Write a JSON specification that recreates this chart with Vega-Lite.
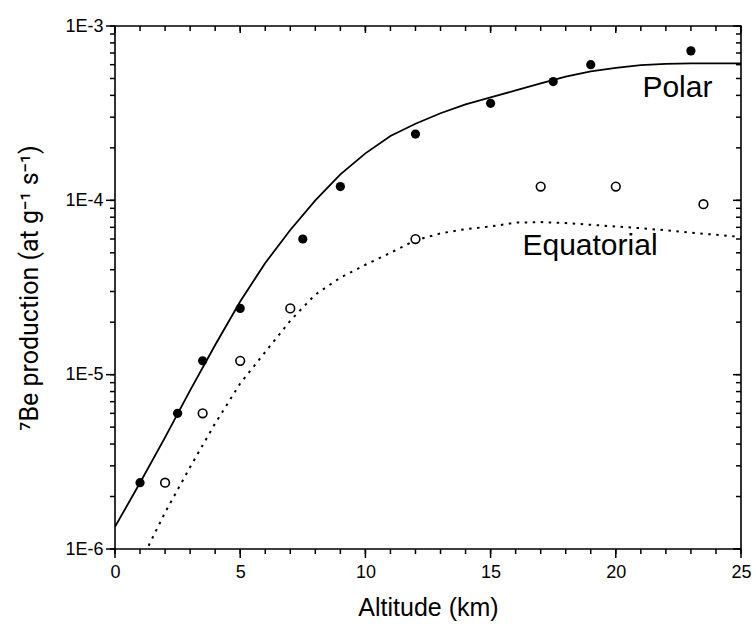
{
  "$schema": "https://vega.github.io/schema/vega-lite/v6.json",
  "width": 626,
  "height": 523,
  "autosize": {"type": "none"},
  "padding": {"left": 115, "top": 26, "right": 12, "bottom": 79},
  "background": "white",
  "config": {
    "view": {"stroke": "black", "strokeWidth": 1.6},
    "font": "Liberation Sans",
    "axis": {
      "grid": false,
      "domain": false,
      "ticks": false,
      "tickSize": 0,
      "labelColor": "black",
      "titleColor": "black",
      "labelFont": "Liberation Sans",
      "titleFont": "Liberation Sans",
      "labelFontSize": 18,
      "titleFontSize": 25,
      "titleFontWeight": "normal"
    }
  },
  "datasets": {
    "polarCurve": [
      {"altitude": 0, "production": 1.34e-6},
      {"altitude": 1, "production": 2.4e-6},
      {"altitude": 2, "production": 4.37e-6},
      {"altitude": 3, "production": 8.13e-6},
      {"altitude": 4, "production": 1.48e-5},
      {"altitude": 5, "production": 2.63e-5},
      {"altitude": 6, "production": 4.37e-5},
      {"altitude": 7, "production": 6.76e-5},
      {"altitude": 8, "production": 1.0e-4},
      {"altitude": 9, "production": 1.41e-4},
      {"altitude": 10, "production": 1.86e-4},
      {"altitude": 11, "production": 2.34e-4},
      {"altitude": 12, "production": 2.75e-4},
      {"altitude": 13, "production": 3.16e-4},
      {"altitude": 14, "production": 3.55e-4},
      {"altitude": 15, "production": 3.89e-4},
      {"altitude": 16, "production": 4.27e-4},
      {"altitude": 17, "production": 4.68e-4},
      {"altitude": 18, "production": 5.13e-4},
      {"altitude": 19, "production": 5.5e-4},
      {"altitude": 20, "production": 5.75e-4},
      {"altitude": 21, "production": 5.96e-4},
      {"altitude": 22, "production": 6.07e-4},
      {"altitude": 23, "production": 6.1e-4},
      {"altitude": 24, "production": 6.1e-4},
      {"altitude": 25, "production": 6.1e-4}
    ],
    "eqCurve": [
      {"altitude": 1.2, "production": 9.5e-7},
      {"altitude": 2, "production": 1.62e-6},
      {"altitude": 3, "production": 2.95e-6},
      {"altitude": 4, "production": 5.25e-6},
      {"altitude": 5, "production": 8.9e-6},
      {"altitude": 6, "production": 1.35e-5},
      {"altitude": 7, "production": 2.04e-5},
      {"altitude": 8, "production": 2.88e-5},
      {"altitude": 9, "production": 3.6e-5},
      {"altitude": 10, "production": 4.27e-5},
      {"altitude": 11, "production": 5.0e-5},
      {"altitude": 12, "production": 5.9e-5},
      {"altitude": 13, "production": 6.46e-5},
      {"altitude": 14, "production": 6.84e-5},
      {"altitude": 15, "production": 7.08e-5},
      {"altitude": 16, "production": 7.45e-5},
      {"altitude": 17, "production": 7.5e-5},
      {"altitude": 18, "production": 7.41e-5},
      {"altitude": 19, "production": 7.24e-5},
      {"altitude": 20, "production": 7.08e-5},
      {"altitude": 21, "production": 6.92e-5},
      {"altitude": 22, "production": 6.73e-5},
      {"altitude": 23, "production": 6.53e-5},
      {"altitude": 24, "production": 6.34e-5},
      {"altitude": 25, "production": 6.17e-5}
    ],
    "polarPts": [
      {"altitude": 1, "production": 2.4e-6},
      {"altitude": 2.5, "production": 6e-6},
      {"altitude": 3.5, "production": 1.2e-5},
      {"altitude": 5, "production": 2.4e-5},
      {"altitude": 7.5, "production": 6e-5},
      {"altitude": 9, "production": 1.2e-4},
      {"altitude": 12, "production": 2.4e-4},
      {"altitude": 15, "production": 3.6e-4},
      {"altitude": 17.5, "production": 4.8e-4},
      {"altitude": 19, "production": 6e-4},
      {"altitude": 23, "production": 7.2e-4}
    ],
    "eqPts": [
      {"altitude": 2, "production": 2.4e-6},
      {"altitude": 3.5, "production": 6e-6},
      {"altitude": 5, "production": 1.2e-5},
      {"altitude": 7, "production": 2.4e-5},
      {"altitude": 12, "production": 6e-5},
      {"altitude": 17, "production": 1.2e-4},
      {"altitude": 20, "production": 1.2e-4},
      {"altitude": 23.5, "production": 9.5e-5}
    ],
    "labels": [
      {"altitude": 22.46, "production": 3.92e-4, "text": "Polar"},
      {"altitude": 18.97, "production": 4.85e-5, "text": "Equatorial"}
    ],
    "xTicks": [
      {"altitude": 0}, {"altitude": 1}, {"altitude": 2}, {"altitude": 3}, {"altitude": 4},
      {"altitude": 5}, {"altitude": 6}, {"altitude": 7}, {"altitude": 8}, {"altitude": 9},
      {"altitude": 10}, {"altitude": 11}, {"altitude": 12}, {"altitude": 13}, {"altitude": 14},
      {"altitude": 15}, {"altitude": 16}, {"altitude": 17}, {"altitude": 18}, {"altitude": 19},
      {"altitude": 20}, {"altitude": 21}, {"altitude": 22}, {"altitude": 23}, {"altitude": 24},
      {"altitude": 25}
    ],
    "yTicks": [
      {"production": 1e-6}, {"production": 2e-6}, {"production": 3e-6}, {"production": 4e-6},
      {"production": 5e-6}, {"production": 6e-6}, {"production": 7e-6}, {"production": 8e-6},
      {"production": 9e-6}, {"production": 1e-5}, {"production": 2e-5}, {"production": 3e-5},
      {"production": 4e-5}, {"production": 5e-5}, {"production": 6e-5}, {"production": 7e-5},
      {"production": 8e-5}, {"production": 9e-5}, {"production": 1e-4}, {"production": 2e-4},
      {"production": 3e-4}, {"production": 4e-4}, {"production": 5e-4}, {"production": 6e-4},
      {"production": 7e-4}, {"production": 8e-4}, {"production": 9e-4}, {"production": 1e-3}
    ]
  },
  "layer": [
    {
      "data": {"name": "polarCurve"},
      "mark": {"type": "line", "color": "black", "strokeWidth": 1.8, "clip": true},
      "encoding": {
        "x": {
          "field": "altitude", "type": "quantitative",
          "scale": {"domain": [0, 25], "nice": false, "zero": false},
          "axis": {
            "orient": "bottom",
            "title": "Altitude (km)",
            "values": [0, 5, 10, 15, 20, 25],
            "format": "d",
            "labelPadding": 14,
            "titlePadding": 14,
            "labelFlush": false,
            "labelOverlap": false
          }
        },
        "y": {
          "field": "production", "type": "quantitative",
          "scale": {"type": "log", "domain": [1e-6, 1e-3], "nice": false},
          "axis": {
            "orient": "left",
            "title": "⁷Be production (at g⁻¹ s⁻¹)",
            "titleFont": "Roboto",
            "values": [1e-6, 1e-5, 1e-4, 1e-3],
            "labelExpr": "datum.value == 1e-6 ? '1E-6' : datum.value == 1e-5 ? '1E-5' : datum.value == 1e-4 ? '1E-4' : '1E-3'",
            "labelPadding": 12,
            "titlePadding": 22,
            "labelFlush": false,
            "labelOverlap": false
          }
        }
      }
    },
    {
      "data": {"name": "eqCurve"},
      "mark": {"type": "line", "color": "black", "strokeWidth": 2, "strokeDash": [2.5, 5.5], "strokeCap": "butt", "clip": true},
      "encoding": {
        "x": {"field": "altitude", "type": "quantitative", "axis": null},
        "y": {"field": "production", "type": "quantitative", "axis": null}
      }
    },
    {
      "data": {"name": "xTicks"},
      "mark": {"type": "rule", "color": "black", "strokeWidth": 1.5, "clip": false},
      "encoding": {
        "x": {"field": "altitude", "type": "quantitative", "axis": null},
        "y": {"datum": 1e-6, "type": "quantitative", "axis": null},
        "y2": {"datum": 9.36e-7}
      }
    },
    {
      "data": {"name": "xTicks"},
      "transform": [{"filter": "datum.altitude % 5 === 0"}],
      "mark": {"type": "rule", "color": "black", "strokeWidth": 1.5, "clip": false},
      "encoding": {
        "x": {"field": "altitude", "type": "quantitative", "axis": null},
        "y": {"datum": 1e-6, "type": "quantitative", "axis": null},
        "y2": {"datum": 8.88e-7}
      }
    },
    {
      "data": {"name": "xTicks"},
      "mark": {"type": "rule", "color": "black", "strokeWidth": 1.5, "clip": false},
      "encoding": {
        "x": {"field": "altitude", "type": "quantitative", "axis": null},
        "y": {"datum": 1e-3, "type": "quantitative", "axis": null},
        "y2": {"datum": 9.36e-4}
      }
    },
    {
      "data": {"name": "xTicks"},
      "transform": [{"filter": "datum.altitude % 5 === 0"}],
      "mark": {"type": "rule", "color": "black", "strokeWidth": 1.5, "clip": false},
      "encoding": {
        "x": {"field": "altitude", "type": "quantitative", "axis": null},
        "y": {"datum": 1e-3, "type": "quantitative", "axis": null},
        "y2": {"datum": 9.12e-4}
      }
    },
    {
      "data": {"name": "yTicks"},
      "mark": {"type": "rule", "color": "black", "strokeWidth": 1.5, "clip": false},
      "encoding": {
        "y": {"field": "production", "type": "quantitative", "axis": null},
        "x": {"datum": 0, "type": "quantitative", "axis": null},
        "x2": {"datum": -0.2}
      }
    },
    {
      "data": {"name": "yTicks"},
      "transform": [{"filter": "indexof([1e-6, 1e-5, 1e-4, 1e-3], datum.production) >= 0"}],
      "mark": {"type": "rule", "color": "black", "strokeWidth": 1.5, "clip": false},
      "encoding": {
        "y": {"field": "production", "type": "quantitative", "axis": null},
        "x": {"datum": 0, "type": "quantitative", "axis": null},
        "x2": {"datum": -0.36}
      }
    },
    {
      "data": {"name": "yTicks"},
      "mark": {"type": "rule", "color": "black", "strokeWidth": 1.5, "clip": false},
      "encoding": {
        "y": {"field": "production", "type": "quantitative", "axis": null},
        "x": {"datum": 25, "type": "quantitative", "axis": null},
        "x2": {"datum": 24.8}
      }
    },
    {
      "data": {"name": "yTicks"},
      "transform": [{"filter": "indexof([1e-6, 1e-5, 1e-4, 1e-3], datum.production) >= 0"}],
      "mark": {"type": "rule", "color": "black", "strokeWidth": 1.5, "clip": false},
      "encoding": {
        "y": {"field": "production", "type": "quantitative", "axis": null},
        "x": {"datum": 25, "type": "quantitative", "axis": null},
        "x2": {"datum": 24.68}
      }
    },
    {
      "data": {"name": "polarPts"},
      "mark": {"type": "point", "shape": "circle", "filled": true, "color": "black", "size": 85, "opacity": 1},
      "encoding": {
        "x": {"field": "altitude", "type": "quantitative", "axis": null},
        "y": {"field": "production", "type": "quantitative", "axis": null}
      }
    },
    {
      "data": {"name": "eqPts"},
      "mark": {"type": "point", "shape": "circle", "filled": false, "color": "black", "fill": "white", "fillOpacity": 1, "strokeWidth": 1.6, "size": 75, "opacity": 1},
      "encoding": {
        "x": {"field": "altitude", "type": "quantitative", "axis": null},
        "y": {"field": "production", "type": "quantitative", "axis": null}
      }
    },
    {
      "data": {"name": "labels"},
      "mark": {"type": "text", "font": "Liberation Sans", "fontSize": 30, "color": "black", "align": "center", "baseline": "alphabetic"},
      "encoding": {
        "x": {"field": "altitude", "type": "quantitative", "axis": null},
        "y": {"field": "production", "type": "quantitative", "axis": null},
        "text": {"field": "text"}
      }
    }
  ],
  "resolve": {"axis": {"x": "independent", "y": "independent"}}
}
